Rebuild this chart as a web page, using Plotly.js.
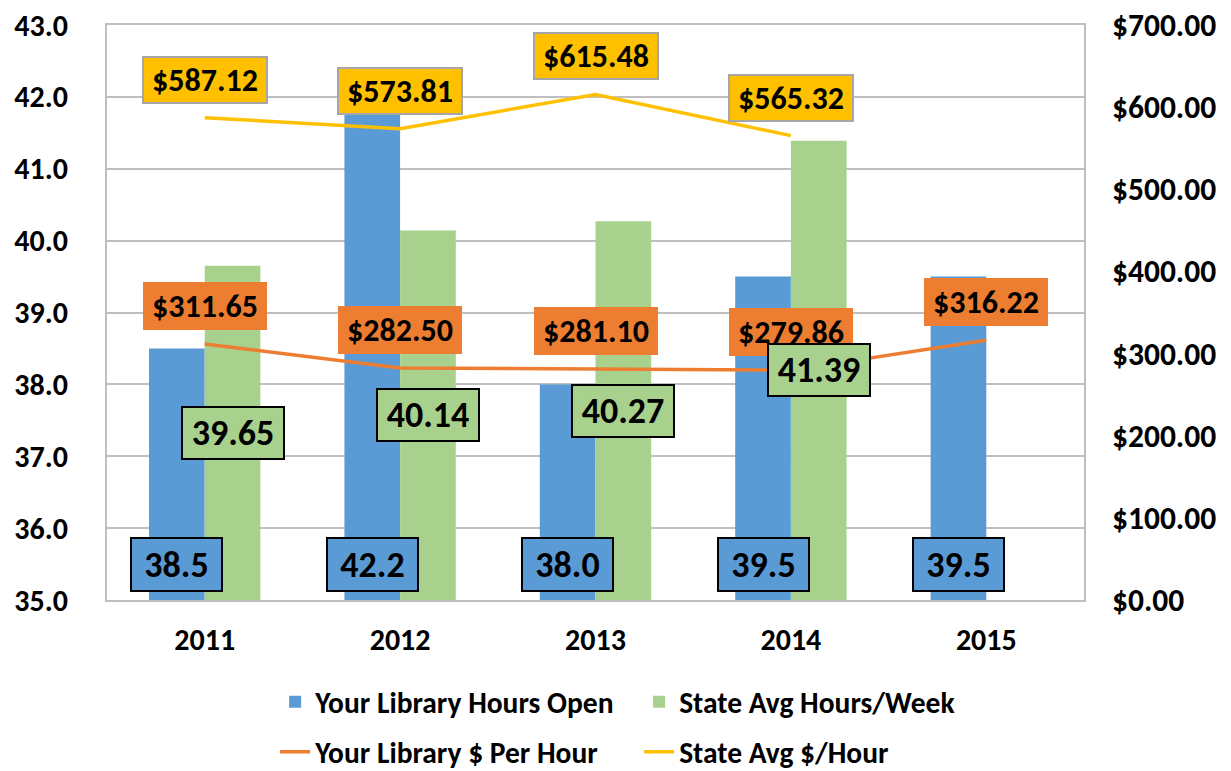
<!DOCTYPE html>
<html>
<head>
<meta charset="utf-8">
<script src="https://cdn.plot.ly/plotly-3.0.1.min.js"></script>
<style>html,body{margin:0;padding:0;background:#fff;}#chart{width:1231px;height:771px;}</style>
</head>
<body>
<div id="chart"></div>
<script>
const years = ['2011', '2012', '2013', '2014', '2015'];
const libHours = [38.5, 42.2, 38.0, 39.5, 39.5];
const stateHours = [39.65, 40.14, 40.27, 41.39, null];
const libCost = [311.65, 282.50, 281.10, 279.86, 316.22];
const stateCost = [587.12, 573.81, 615.48, 565.32, null];
const seriesNames = ['Your Library Hours Open', 'State Avg Hours/Week', 'Your Library $ Per Hour', 'State Avg $/Hour'];

const FONT = "Carlito, 'Liberation Sans Narrow', 'Open Sans', sans-serif";
const BLUE = '#5B9BD5', GREEN = '#A9D18E', ORANGE = '#ED7D31', YELLOW = '#FFC000';

const traces = [
  {type: 'bar', x: years, y: libHours, name: seriesNames[0], marker: {color: BLUE}, legend: 'legend', hoverinfo: 'skip'},
  {type: 'bar', x: years, y: stateHours, name: seriesNames[1], marker: {color: GREEN}, legend: 'legend', hoverinfo: 'skip'},
  {type: 'scatter', mode: 'lines', x: years, y: libCost, name: seriesNames[2], yaxis: 'y2', line: {color: ORANGE, width: 3.5}, legend: 'legend2', hoverinfo: 'skip'},
  {type: 'scatter', mode: 'lines', x: years, y: stateCost, name: seriesNames[3], yaxis: 'y2', line: {color: YELLOW, width: 3.5}, legend: 'legend2', hoverinfo: 'skip'}
];

const annotations = [];
const dollarFont = {family: FONT, size: 32, color: '#000', weight: 'bold'};
const barFont = {family: FONT, size: 36, color: '#000', weight: 'bold'};
years.forEach((yr, i) => {
  if (stateCost[i] != null) annotations.push({
    x: i, xref: 'x', y: stateCost[i], yref: 'y2', yshift: 38, showarrow: false,
    text: '<b>$' + stateCost[i].toFixed(2) + '</b>', font: dollarFont,
    width: 122, height: 44, borderpad: 0,
    bgcolor: YELLOW, bordercolor: '#A6A6A6', borderwidth: 2
  });
});
years.forEach((yr, i) => {
  if (libCost[i] != null) annotations.push({
    x: i, xref: 'x', y: libCost[i], yref: 'y2', yshift: 38, showarrow: false,
    text: '<b>$' + libCost[i].toFixed(2) + '</b>', font: dollarFont,
    width: 122, height: 46, borderpad: 0,
    bgcolor: ORANGE, bordercolor: ORANGE, borderwidth: 1
  });
});
years.forEach((yr, i) => {
  if (stateHours[i] != null) annotations.push({
    x: i, xref: 'x', xshift: 27.8, y: (35 + stateHours[i]) / 2, yref: 'y', showarrow: false,
    text: '<b>' + stateHours[i].toFixed(2) + '</b>', font: barFont,
    width: 100, height: 50, borderpad: 0,
    bgcolor: GREEN, bordercolor: '#000', borderwidth: 2
  });
});
years.forEach((yr, i) => {
  if (libHours[i] != null) annotations.push({
    x: i, xref: 'x', xshift: -27.8, y: 35, yref: 'y', yanchor: 'bottom', yshift: 8, showarrow: false,
    text: '<b>' + libHours[i].toFixed(1) + '</b>', font: barFont,
    width: 89, height: 51, borderpad: 0,
    bgcolor: BLUE, bordercolor: '#000', borderwidth: 2
  });
});

const legendFont = {family: FONT, size: 29.5, color: '#000', weight: 'bold'};

const layout = {
  width: 1231, height: 771,
  margin: {l: 107, r: 147, t: 25, b: 171},
  paper_bgcolor: '#fff', plot_bgcolor: '#fff',
  font: {family: FONT},
  showlegend: true,
  barmode: 'group', bargap: 0.43, bargroupgap: 0,
  xaxis: {
    type: 'category', range: [-0.5, 4.5], autorange: false,
    tickfont: {family: FONT, size: 30, color: '#000', weight: 'bold'},
    showline: true, linecolor: '#BFBFBF', linewidth: 2, mirror: true,
    ticks: '', ticklabelstandoff: 12, showgrid: false
  },
  yaxis: {
    range: [35, 43], autorange: false, dtick: 1, tickformat: '.1f',
    tickfont: {family: FONT, size: 30, color: '#000', weight: 'bold'},
    showgrid: true, gridcolor: '#BFBFBF', gridwidth: 2,
    showline: true, linecolor: '#BFBFBF', linewidth: 2, mirror: true,
    ticks: '', ticklabelstandoff: 31, zeroline: false
  },
  yaxis2: {
    range: [0, 700], autorange: false, dtick: 100, tickformat: '.2f', tickprefix: '$',
    tickfont: {family: FONT, size: 31.5, color: '#000', weight: 'bold'},
    overlaying: 'y', side: 'right', showgrid: false, zeroline: false,
    showline: false, ticks: '', ticklabelstandoff: 27
  },
  legend: {
    orientation: 'h', xref: 'container', x: 0.2235, xanchor: 'left',
    yref: 'container', y: 0.0895, yanchor: 'middle',
    entrywidth: 319, entrywidthmode: 'pixels', font: legendFont, bgcolor: 'rgba(0,0,0,0)'
  },
  legend2: {
    orientation: 'h', xref: 'container', x: 0.2235, xanchor: 'left',
    yref: 'container', y: 0.0245, yanchor: 'middle',
    entrywidth: 319, entrywidthmode: 'pixels', font: legendFont, bgcolor: 'rgba(0,0,0,0)'
  },
  annotations: annotations
};

Plotly.newPlot('chart', traces, layout, {displayModeBar: false, staticPlot: true});
</script>
</body>
</html>
